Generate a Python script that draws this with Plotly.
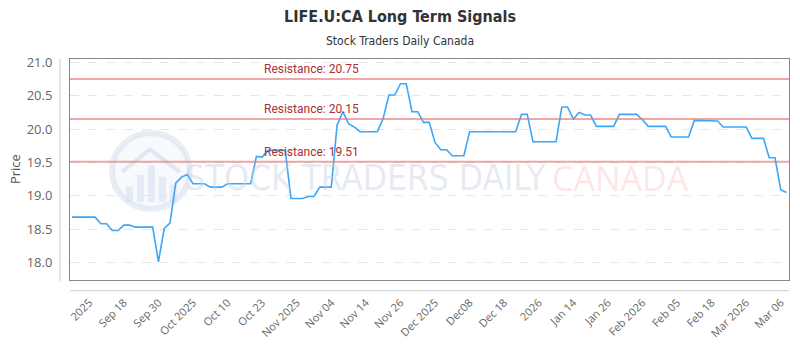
import plotly.graph_objects as go

# ---------------- data ----------------
prices = [
    18.68, 18.68, 18.68, 18.68, 18.68, 18.58, 18.58, 18.48, 18.48, 18.56,
    18.56, 18.53, 18.53, 18.53, 18.53, 18.01, 18.51, 18.59, 19.19, 19.28,
    19.32, 19.18, 19.18, 19.18, 19.13, 19.13, 19.13, 19.18, 19.18, 19.18,
    19.18, 19.18, 19.59, 19.58, 19.68, 19.68, 19.68, 19.68, 18.96, 18.96,
    18.96, 18.99, 18.99, 19.13, 19.13, 19.13, 20.06, 20.26, 20.08, 20.03,
    19.96, 19.96, 19.96, 19.96, 20.16, 20.51, 20.51, 20.68, 20.68, 20.26,
    20.26, 20.10, 20.10, 19.80, 19.69, 19.69, 19.60, 19.60, 19.60, 19.96,
    19.96, 19.96, 19.96, 19.96, 19.96, 19.96, 19.96, 19.96, 20.22, 20.22,
    19.81, 19.81, 19.81, 19.81, 19.81, 20.33, 20.33, 20.15, 20.25, 20.21,
    20.21, 20.04, 20.04, 20.04, 20.04, 20.22, 20.22, 20.22, 20.22, 20.14,
    20.04, 20.04, 20.04, 20.04, 19.88, 19.88, 19.88, 19.88, 20.13, 20.13,
    20.13, 20.13, 20.12, 20.03, 20.03, 20.03, 20.03, 20.03, 19.86, 19.86,
    19.86, 19.57, 19.57, 19.09, 19.05,
]
tick_labels = [
    "2025", "Sep 18", "Sep 30", "Oct 2025", "Oct 10", "Oct 23", "Nov 2025",
    "Nov 04", "Nov 14", "Nov 26", "Dec 2025", "Dec08", "Dec 18", "2026",
    "Jan 14", "Jan 26", "Feb 2026", "Feb 05", "Feb 18", "Mar 2026", "Mar 06",
]
tick_every = 6
tick_first = 3
resistance = [20.75, 20.15, 19.51]
y_ticks = [18.0, 18.5, 19.0, 19.5, 20.0, 20.5, 21.0]

# ---------------- figure ----------------
x_idx = list(range(len(prices)))
tick_idx = [tick_first + tick_every * i for i in range(len(tick_labels))]

W, H = 800, 350
L, R, T, B = 70, 10, 59, 64
PW, PH = W - L - R, H - T - B


def px(xp):
    return (xp - L) / PW


def py(yp):
    return (H - B - yp) / PH


NARROW = "DejaVu Sans Condensed, Liberation Sans Narrow, Roboto"

fig = go.Figure()
fig.add_trace(go.Scatter(
    x=x_idx, y=prices, mode="lines",
    line=dict(color="#3aa8f7", width=1.6),
    hoverinfo="skip", showlegend=False,
))

shapes = []
annotations = []

# watermark logo
shapes.append(dict(type="circle", xref="paper", yref="paper",
                   x0=px(112), x1=px(190), y0=py(213), y1=py(135),
                   line=dict(color="rgba(210,222,238,0.5)", width=6),
                   fillcolor="rgba(235,240,248,0.4)", layer="below"))
for bx, btop in [(126, 190), (137, 178), (148, 168), (159, 180), (170, 188)]:
    shapes.append(dict(type="rect", xref="paper", yref="paper",
                       x0=px(bx), x1=px(bx + 7), y0=py(206), y1=py(btop),
                       line=dict(width=0), fillcolor="rgba(205,217,235,0.45)",
                       layer="below"))
shapes.append(dict(type="path", xref="paper", yref="paper",
                   path=f"M {px(122)} {py(175)} L {px(150)} {py(152)} L {px(180)} {py(175)}",
                   line=dict(color="rgba(205,217,235,0.55)", width=4), layer="below"))
annotations.append(dict(text="STOCK TRADERS DAILY", xref="paper", yref="paper",
                        x=px(366), y=py(181), xanchor="center", yanchor="middle",
                        showarrow=False,
                        font=dict(family=NARROW, size=35, color="rgba(200,210,226,0.45)")))
annotations.append(dict(text="CANADA", xref="paper", yref="paper",
                        x=px(621), y=py(181), xanchor="center", yanchor="middle",
                        showarrow=False,
                        font=dict(family="Open Sans, Roboto", size=34,
                                  color="rgba(245,170,170,0.3)")))

# separate axis lines (offset from frame)
shapes.append(dict(type="line", xref="paper", yref="paper",
                   x0=px(60), x1=px(60), y0=py(287), y1=py(59),
                   line=dict(color="#cccccc", width=1)))
shapes.append(dict(type="line", xref="paper", yref="paper",
                   x0=px(70), x1=px(790), y0=py(297), y1=py(297),
                   line=dict(color="#cccccc", width=1)))

# resistance lines
for r in resistance:
    shapes.append(dict(type="line", xref="paper", yref="y", x0=0, x1=1, y0=r, y1=r,
                       line=dict(color="rgba(228,120,120,0.65)", width=2)))
    annotations.append(dict(text=f"Resistance: {r:.2f}", xref="paper", yref="y",
                            x=px(262), y=r, xanchor="left", yanchor="bottom",
                            yshift=1, showarrow=False,
                            font=dict(family="Roboto", size=12, color="#a83232")))

# subtitle and y title
annotations.append(dict(text="Stock Traders Daily Canada", xref="paper", yref="paper",
                        x=px(W / 2), y=py(40), xanchor="center",
                        yanchor="middle", showarrow=False,
                        font=dict(family=NARROW, size=12, color="#333333")))
annotations.append(dict(text="Price", xref="paper", yref="paper",
                        x=px(15), y=py(172), xanchor="center", yanchor="middle",
                        textangle=-90, showarrow=False,
                        font=dict(family="Open Sans, Roboto", size=13, color="#555555")))

fig.update_layout(
    width=W, height=H,
    margin=dict(l=L, r=R, t=T, b=B, pad=0),
    paper_bgcolor="white", plot_bgcolor="white",
    title=dict(text="<b>LIFE.U:CA Long Term Signals</b>", x=0.5, xanchor="center",
               xref="container", y=1 - 16 / H, yanchor="middle",
               font=dict(family=NARROW, size=16, color="#333333")),
    shapes=shapes, annotations=annotations,
    xaxis=dict(range=[-0.35, 124.43], tickmode="array", tickvals=tick_idx,
               ticktext=tick_labels, tickangle=-45, showgrid=False, zeroline=False,
               showline=True, mirror=True, linecolor="#888888", linewidth=1,
               ticks="", ticklabelstandoff=11,
               tickfont=dict(family="Open Sans, Roboto", size=11, color="#666666")),
    yaxis=dict(range=[17.738, 21.05], tickmode="array", tickvals=y_ticks,
               ticktext=[f"{v:.1f}" for v in y_ticks],
               showgrid=True, gridcolor="#e6e6e6", griddash="dash", gridwidth=1,
               zeroline=False, showline=True, mirror=True, linecolor="#888888",
               linewidth=1, ticks="", ticklabelstandoff=14,
               tickfont=dict(family="Open Sans, Roboto", size=13, color="#666666")),
)

fig.write_html("out.html")
